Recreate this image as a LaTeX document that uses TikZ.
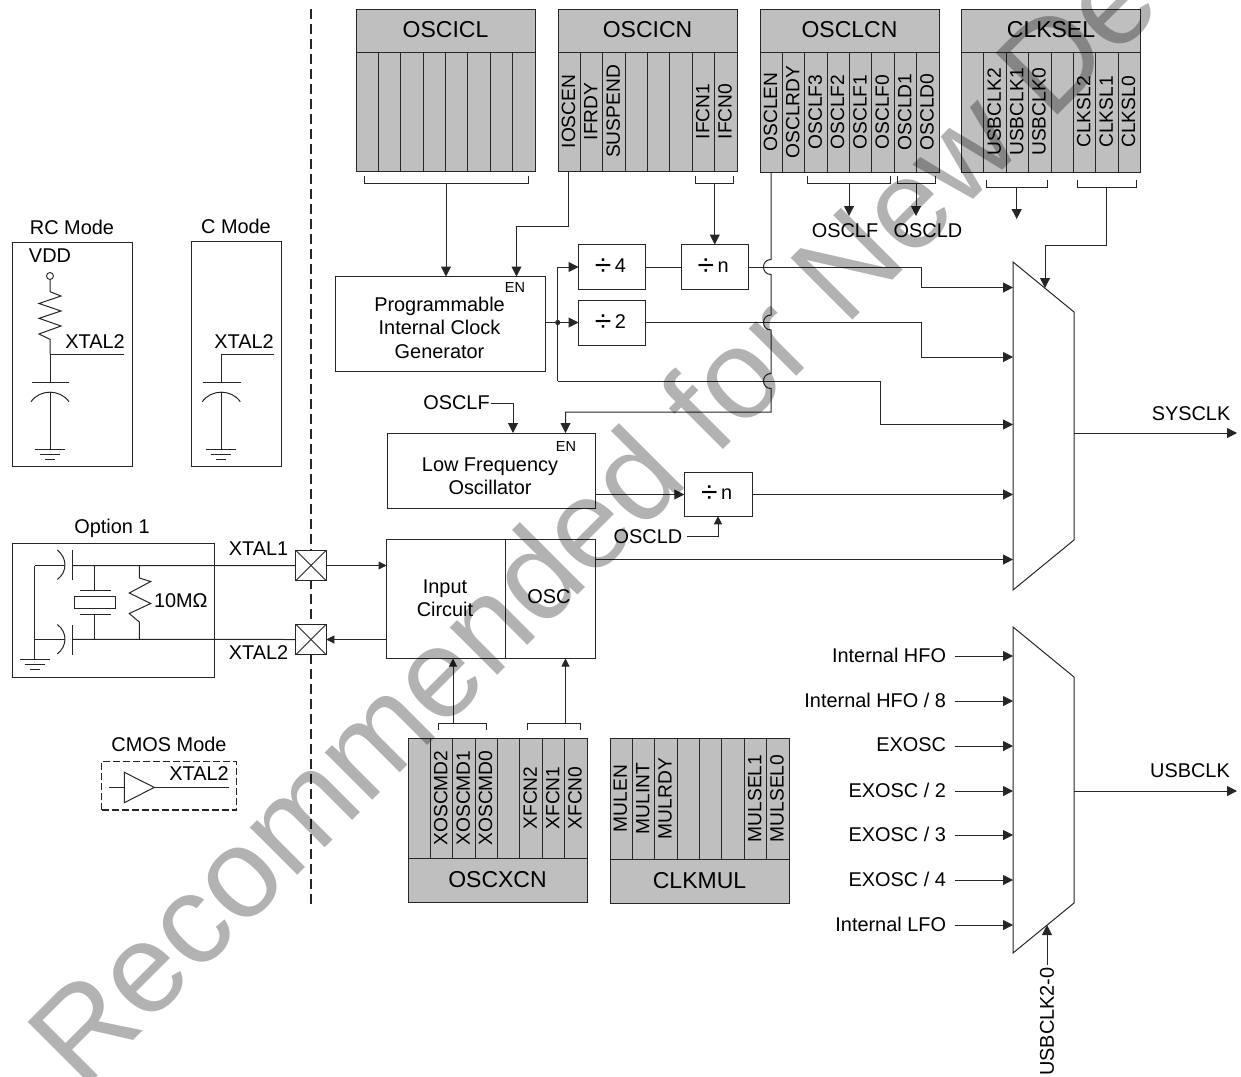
\documentclass[tikz,border=0pt]{standalone}
\usepackage{fontspec}
\setmainfont{Liberation Sans}
\usetikzlibrary{arrows.meta,calc}
\definecolor{reg}{gray}{0.75}
\definecolor{ink}{gray}{0.15}
\definecolor{wm}{gray}{0.70}
\tikzset{
  wire/.style={draw=ink,line width=1pt},
  arr/.style={wire,-{Triangle[length=10pt,width=10pt]}},
  sarr/.style={wire,-{Triangle[length=8pt,width=8pt]}},
  lbl/.style={font=\fontsize{19.9}{23.5}\selectfont,inner sep=0pt,outer sep=0pt,text=black,align=center},
  small/.style={font=\fontsize{14.5}{17}\selectfont,inner sep=0pt,outer sep=0pt,text=black},
  block/.style={draw=ink,line width=1pt,fill=white,inner sep=0pt,outer sep=0pt,align=center,font=\fontsize{19.9}{23.5}\selectfont},
  cell/.style={draw=ink,line width=0.9pt,fill=reg,rotate=90,inner sep=0pt,outer sep=0pt,minimum height=22.375pt,font=\fontsize{19.2}{22}\selectfont},
  reghead/.style={draw=ink,line width=0.9pt,fill=reg,inner sep=0pt,outer sep=0pt,minimum width=179pt,font=\fontsize{23}{26}\selectfont},
}
\newcommand{\regcells}[5]{%
  \foreach \bt [count=\ii from 0] in {#5} {
    \pgfmathsetmacro\celx{#2+(\ii+0.5)*22.375}
    \pgfmathsetmacro\cely{(#3+#4)/2}
    \pgfmathsetmacro\celh{#4-#3}
    \node[cell,minimum width=\celh pt] (#1-\ii) at (\celx,\cely) {\raisebox{1.7pt}{\bt}};
  }}
\newcommand{\hd}[1]{\raisebox{2pt}{#1}}
\newcommand{\dv}[1]{\hspace{-3pt}\raisebox{-3.2pt}{\fontsize{30}{30}\selectfont ÷}\hspace{3.5pt}#1}
\newcommand{\bracketmark}[4]{\draw[wire] (#1,#3) |- (#2,#4) -- (#2,#3);}
\newcommand{\groundmark}[2]{%
  \draw[wire] ($(#1)+(-15,0)$) -- ($(#1)+(15,0)$);
  \draw[wire] ($(#1)+(-10,5)$) -- ($(#1)+(10,5)$);
  \draw[wire] ($(#1)+(-5,10)$) -- ($(#1)+(5,10)$);}
\begin{document}
\begin{tikzpicture}[x=1pt,y=-1pt]
\useasboundingbox (0,0) rectangle (1241,1076);
\clip (0,0) rectangle (1241,1076);
\fill[white] (0,0) rectangle (1241,1076);

% separator
\draw[draw=ink,line width=2pt,dash pattern=on 10pt off 5pt] (311,9) -- (311,907);

% registers
\node[reghead,minimum height=43pt] (oscicl) at (445.5,30.5) {\hd{OSCICL}};
\regcells{ricl}{356}{52}{171}{{},{},{},{},{},{},{},{}}
\node[reghead,minimum height=43pt] (oscicn) at (647.5,30.5) {\hd{OSCICN}};
\regcells{ricn}{558}{52}{171}{IOSCEN,IFRDY,SUSPEND,{},{},{},IFCN1,IFCN0}
\node[reghead,minimum height=43pt] (osclcn) at (849.5,30.5) {\hd{OSCLCN}};
\regcells{rlcn}{760}{52}{172}{OSCLEN,OSCLRDY,OSCLF3,OSCLF2,OSCLF1,OSCLF0,OSCLD1,OSCLD0}
\node[reghead,minimum height=43pt] (clksel) at (1051,30.5) {\hd{CLKSEL}};
\regcells{rsel}{961.5}{52}{172}{{},USBCLK2,USBCLK1,USBCLK0,{},CLKSL2,CLKSL1,CLKSL0}
\regcells{rxcn}{408}{738}{858}{{},XOSCMD2,XOSCMD1,XOSCMD0,{},XFCN2,XFCN1,XFCN0}
\node[reghead,minimum height=44pt] (oscxcn) at (497.5,880) {\hd{OSCXCN}};
\regcells{rmul}{610}{738}{859}{MULEN,MULINT,MULRDY,{},{},{},MULSEL1,MULSEL0}
\node[reghead,minimum height=44pt] (clkmul) at (699.5,881) {\hd{CLKMUL}};

% blocks
\node[block,minimum width=209.5pt,minimum height=95pt] (gen) at (440.25,324) {};
\node[lbl] (gent) at (439.5,327.5) {Programmable\\Internal Clock\\Generator};
\node[small] (genen) at (515,288) {EN};
\node[block,minimum width=67pt,minimum height=45pt] (d4) at (612,267) {\dv{4}};
\node[block,minimum width=66.5pt,minimum height=45pt] (dn1) at (714.75,267) {\dv{n}};
\node[block,minimum width=67pt,minimum height=44.5pt] (d2) at (612,322.75) {\dv{2}};
\node[block,minimum width=208pt,minimum height=75pt] (lfo) at (491,470.5) {};
\node[lbl] (lfot) at (490,476) {Low Frequency\\Oscillator};
\node[small] (lfoen) at (566,447) {EN};
\node[block,minimum width=68pt,minimum height=44pt] (dn2) at (718.25,494.25) {\dv{n}};
\node[block,minimum width=119pt,minimum height=119pt] (inp) at (446,599) {};
\node[lbl] (inpt) at (445,598) {Input\\Circuit};
\node[block,minimum width=89.5pt,minimum height=119pt] (osc) at (550.25,599) {};
\node[lbl] (osct) at (549,597) {OSC};

% pads
\foreach \pn/\py in {pad1/565.5,pad2/639.5}{
  \node[draw=ink,line width=1pt,fill=white,minimum size=30.5pt,inner sep=0pt,outer sep=0pt] (\pn) at (311,\py) {};
  \draw[wire,line width=0.8pt] (\pn.north west) -- (\pn.south east);
  \draw[wire,line width=0.8pt] (\pn.north east) -- (\pn.south west);
}

% labels
\node[lbl] (xt1) at (258.5,549) {XTAL1};
\node[lbl] (xt2) at (258.5,653) {XTAL2};
\node[lbl] (oscld1) at (648,536.5) {OSCLD};
\node[lbl] (osclf1) at (456.5,403) {OSCLF};
\node[lbl] (osclf2) at (845,230.5) {OSCLF};
\node[lbl] (oscld2) at (928,230.5) {OSCLD};
\node[lbl] (sysclk) at (1191,414) {SYSCLK};
\node[lbl] (usbclk) at (1190,771) {USBCLK};
\node[lbl,rotate=90] (usbsel) at (1047,1021.5) {USBCLK2-0};

% mux
\draw[wire] (1013,262) -- (1074,312) -- (1074,540) -- (1013,590) -- cycle;
\draw[wire] (1013,627) -- (1074,677) -- (1074,903) -- (1013,953) -- cycle;
\coordinate (mux1out) at (1074,433);
\coordinate (sysend) at (1237,433);
\coordinate (mux2out) at (1074,791);
\coordinate (usbend) at (1237,791);
\draw[arr] (mux1out) -- (sysend);
\draw[arr] (mux2out) -- (usbend);

% top brackets and connections
\bracketmark{364}{528}{176}{183.5}
\coordinate (bk1) at (446,183.5);
\draw[arr] (bk1) -- (bk1 |- gen.north);
\bracketmark{695}{733}{176}{183.5}
\coordinate (bk2) at (714.75,183.5);
\draw[arr] (bk2) -- (bk2 |- dn1.north);
\coordinate (ioscen) at (568,171);
\coordinate (en1) at (516.5,226);
\draw[arr] (ioscen) |- (en1) -- (en1 |- gen.north);
\bracketmark{807.7}{890}{176}{183.5}
\coordinate (bk3) at (849,183.5);
\coordinate (bk3e) at (849,216);
\draw[arr] (bk3) -- (bk3e);
\bracketmark{897.3}{935}{176}{183.5}
\coordinate (bk4) at (916,183.5);
\coordinate (bk4e) at (916,216);
\draw[arr] (bk4) -- (bk4e);
\bracketmark{986.7}{1047.3}{180}{187.3}
\coordinate (bk5) at (1016.7,187.3);
\coordinate (bk5e) at (1016.7,219);
\draw[arr] (bk5) -- (bk5e);
\bracketmark{1077.3}{1136.7}{180}{187.3}
\coordinate (bk6) at (1106.7,187.3);
\coordinate (bk6m) at (1045,245.3);
\coordinate (bk6e) at (1045,288);
\draw[arr] (bk6) |- (bk6m) -- (bk6e);

% clock paths
\coordinate (jn) at (557.7,322.5);
\draw[wire] (gen.east |- jn) -- (jn);
\fill[ink] (jn) circle (2.6pt);
\draw[arr] (jn) -- (d2.west |- jn);
\coordinate (jtop) at (557.7,267);
\draw[arr] (jn) -- (jtop) -- (d4.west);
\draw[wire] (d4.east) -- (dn1.west);
\coordinate (in1a) at (921.5,267);
\coordinate (in1b) at (921.5,287.5);
\coordinate (in1c) at (1013,287.5);
\draw[arr] (dn1.east) -- (in1a) -- (in1b) -- (in1c);
\coordinate (in2a) at (921.5,322.5);
\coordinate (in2b) at (921.5,357);
\coordinate (in2c) at (1013,357);
\draw[arr] (d2.east |- in2a) -- (in2a) -- (in2b) -- (in2c);
\coordinate (in3o) at (557.7,381);
\coordinate (in3a) at (880,381);
\coordinate (in3b) at (880,424.5);
\coordinate (in3c) at (1013,424.5);
\draw[wire] (jn) -- (in3o);
\draw[arr] (in3o) -- (in3a) -- (in3b) -- (in3c);
\coordinate (oscle) at (771,172);
\coordinate (oscle2) at (771,412);
\coordinate (en2) at (565.5,412);
\draw[arr] (oscle) -- (771,259.5) .. controls (761,259.5) and (761,274.5) .. (771,274.5)
  -- (771,315) .. controls (761,315) and (761,330) .. (771,330)
  -- (771,373.5) .. controls (761,373.5) and (761,388.5) .. (771,388.5)
  -- (oscle2) -- (en2) -- (en2 |- lfo.north);
\coordinate (olf) at (491,403);
\coordinate (olfb) at (513,403);
\draw[arr] (olf) -- (olfb) -- (olfb |- lfo.north);
\coordinate (lfoy) at (595,494.5);
\draw[arr] (lfoy) -- (dn2.west |- lfoy);
\coordinate (in4) at (1013,494.5);
\draw[arr] (dn2.east |- in4) -- (in4);
\coordinate (old) at (687,536.5);
\coordinate (oldb) at (718,536.5);
\draw[sarr] (old) -- (oldb) -- (oldb |- dn2.south);
\coordinate (oscy) at (595,559.5);
\coordinate (in5) at (1013,559.5);
\draw[arr] (oscy) -- (in5);
\draw[sarr] (pad1.east) -- (inp.west |- pad1.east);
\draw[sarr] (inp.west |- pad2.east) -- (pad2.east);

% lower brackets
\bracketmark{438.5}{486.5}{730}{723}
\coordinate (bk7) at (453,723);
\draw[sarr] (bk7) -- (bk7 |- inp.south);
\bracketmark{527.7}{580.7}{730}{723}
\coordinate (bk8) at (565.5,723);
\draw[sarr] (bk8) -- (bk8 |- osc.south);

% usb mux inputs
\foreach \nm/\ty/\tx in {a/656/{Internal HFO},b/701/{Internal HFO / 8},c/746/{EXOSC},d/791/{EXOSC / 2},e/835/{EXOSC / 3},f/880/{EXOSC / 4},g/925/{Internal LFO}}{
  \node[lbl,anchor=east] (usb\nm) at (946,\ty-1) {\tx};
  \coordinate (usbi\nm) at (955,\ty);
  \coordinate (usbj\nm) at (1013,\ty);
  \draw[arr] (usbi\nm) -- (usbj\nm);
}
\coordinate (uselb) at (1047,965);
\coordinate (uselt) at (1047,925);
\draw[arr] (uselb) -- (uselt);

% RC mode
\node[lbl] (rct) at (72,227) {RC Mode};
\node[draw=ink,line width=1pt,inner sep=0pt,outer sep=0pt,minimum width=119.7pt,minimum height=223.7pt] (rcbox) at (72.15,354.2) {};
\node[lbl] (vdd) at (50,256) {VDD};
\node[draw=ink,line width=0.9pt,circle,minimum size=7pt,inner sep=0pt] (vc) at (50,276) {};
\coordinate (r1) at (50,354.3);
\coordinate (rx) at (124,354.3);
\draw[wire] (vc.south) -- (50,291.7) -- (61,296) -- (39,303.5) -- (61,311) -- (39,318.3) -- (61,326) -- (39,334) -- (50,339.3) -- (r1);
\draw[wire] (r1) -- (rx);
\node[lbl] (rcx) at (95,342) {XTAL2};
\coordinate (rp) at (50,382.7);
\draw[wire] (r1) -- (rp);
\draw[wire] (31.7,382.7) -- (69.3,382.7);
\draw[wire] (31,401.7) .. controls (40,389) and (60,389) .. (69,401.7);
\coordinate (rg) at (50,449.3);
\coordinate (rtop) at (50,392);
\draw[wire] (rtop) -- (rg);
\groundmark{rg}{}

% C mode
\node[lbl] (ct) at (236,226) {C Mode};
\node[draw=ink,line width=1pt,inner sep=0pt,outer sep=0pt,minimum width=90.4pt,minimum height=224.7pt] (cbox) at (236.5,353.7) {};
\coordinate (c1) at (221.3,354.3);
\coordinate (cx) at (274,354.3);
\coordinate (cp) at (221.3,382.7);
\draw[wire] (cx) -- (c1) -- (cp);
\node[lbl] (cxt) at (244,342) {XTAL2};
\draw[wire] (203,382.7) -- (240.7,382.7);
\draw[wire] (202.3,401.7) .. controls (211.3,389) and (231.3,389) .. (240.3,401.7);
\coordinate (cg) at (221.3,449.3);
\coordinate (ctop) at (221.3,392);
\draw[wire] (ctop) -- (cg);
\groundmark{cg}{}

% Option 1
\node[lbl] (optt) at (112,528) {Option 1};
\node[draw=ink,line width=1pt,inner sep=0pt,outer sep=0pt,minimum width=202pt,minimum height=134pt] (optbox) at (113,610) {};
\coordinate (ol) at (34.7,565.7);
\coordinate (ol2) at (34.7,639.3);
\coordinate (og) at (34.7,659.5);
\draw[wire] (ol) -- (og);
\draw[wire] (ol) -- (65,565.7);
\draw[wire] (ol2) -- (65,639.3);
\draw[wire] (72.7,565.7) -- (pad1.west);
\draw[wire] (72.7,639.3) -- (pad2.west);
\draw[wire] (57.3,550) .. controls (67.5,558) and (67.5,572) .. (57.3,579.5);
\draw[wire] (57.3,624.5) .. controls (67.5,632) and (67.5,646) .. (57.3,654);
\draw[wire] (72.7,550) -- (72.7,580);
\draw[wire] (72.7,625) -- (72.7,655);
\groundmark{og}{}
\coordinate (cr1) at (94.3,565.7);
\coordinate (cr2) at (94.3,590.7);
\coordinate (cr3) at (94.3,614);
\coordinate (cr4) at (94.3,639.3);
\draw[wire] (cr1) -- (cr2);
\draw[wire] (cr3) -- (cr4);
\draw[wire] (80,590.7) -- (110.7,590.7);
\draw[wire] (80,614) -- (110.7,614);
\node[draw=ink,line width=1pt,fill=white,inner sep=0pt,outer sep=0pt,minimum width=41.4pt,minimum height=11.6pt] (xtal) at (95,602.5) {};
\coordinate (res1) at (139.3,565.7);
\coordinate (res2) at (139.3,639.3);
\draw[wire] (res1) -- (139.3,578) -- (150.7,581.5) -- (129.3,593) -- (150.7,603.5) -- (129.3,613.5) -- (139.3,622) -- (res2);
\node[lbl,anchor=west] (mohm) at (154,601) {10MΩ};

% CMOS Mode
\node[lbl] (cmt) at (169,744) {CMOS Mode};
\node[draw=ink,line width=1.1pt,dash pattern=on 7pt off 3pt,inner sep=0pt,outer sep=0pt,minimum width=135pt,minimum height=48.3pt] (cmbox) at (169.2,785.85) {};
\coordinate (b1) at (124.3,772.3);
\coordinate (b2) at (124.3,802.7);
\coordinate (b3) at (154.3,787.4);
\coordinate (b4) at (109.3,787.4);
\coordinate (b5) at (228.7,787.4);
\coordinate (b6) at (124.3,787.4);
\draw[wire] (b1) -- (b2) -- (b3) -- cycle;
\draw[wire] (b4) -- (b6);
\draw[wire] (b3) -- (b5);
\node[lbl] (cmx) at (199,774) {XTAL2};

% watermark
\begin{scope}[blend mode=multiply]
\node[anchor=base west,rotate=45,inner sep=0pt,outer sep=0pt,text=wm,font=\fontsize{127}{127}\selectfont] (wmk) at (82,1091) {Recommended for New De};
\end{scope}
\end{tikzpicture}
\end{document}
